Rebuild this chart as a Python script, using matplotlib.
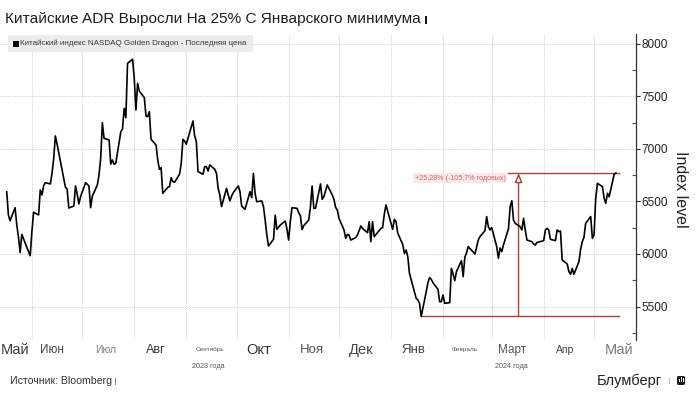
import matplotlib
matplotlib.use('Agg')
import matplotlib.pyplot as plt
import matplotlib.dates as mdates
from matplotlib.patches import Rectangle, FancyBboxPatch
from matplotlib.ticker import MultipleLocator, NullFormatter
import pandas as pd
import numpy as np

plt.rcParams['font.family'] = ['Liberation Sans', 'DejaVu Sans']

# ---------------- data ----------------
start_date = '2023-05-17'
end_date = '2024-05-14'
holidays = ['2023-05-29', '2023-06-19', '2023-07-04', '2023-09-04', '2023-11-23',
            '2023-12-25', '2024-01-01', '2024-01-15', '2024-02-19', '2024-03-29']

may23 = [6593, 6372, 6317, 6441, 6276, 6165, 6013, 6187, 6022, 5984]
jun23 = [6212, 6397, 6372, 6610, 6562, 6650, 6679, 6667, 6768, 6911, 7124, 7048, 6721,
         6635, 6619, 6438, 6457, 6648, 6571, 6476, 6546]
jul23 = [6679, 6648, 6441, 6550, 6657, 6752, 6911, 7250, 7102, 7086, 6856, 6895, 6854,
         6864, 7165, 7190, 7387, 7298, 7816, 7854]
aug23 = [7673, 7371, 7625, 7552, 7489, 7314, 7308, 7355, 7092, 7038, 6895, 6806, 6822,
         6578, 6635, 6641, 6727, 6689, 6683, 6760, 6864, 7092, 7076]
sep23 = [7045, 7267, 7124, 7070, 6784, 6759, 6832, 6832, 6790, 6848, 6806, 6768, 6625,
         6562, 6451, 6625, 6562, 6505, 6552, 6584]
oct23 = [6648, 6594, 6457, 6441, 6425, 6594, 6537, 6768, 6578, 6498, 6505, 6451, 6324,
         6181, 6076, 6140, 6371, 6235, 6254, 6276, 6314, 6235]
nov23 = [6133, 6308, 6441, 6435, 6394, 6365, 6232, 6270, 6324, 6451, 6648, 6435, 6435,
         6667, 6521, 6546, 6657, 6562, 6521, 6444, 6419]
dec23 = [6340, 6229, 6149, 6187, 6181, 6133, 6156, 6181, 6222, 6267, 6244, 6203, 6308,
         6117, 6308, 6165, 6244, 6251, 6378, 6467]
jan24 = [6235, 6330, 6308, 6200, 6090, 6005, 6038, 5975, 5816, 5578, 5562, 5530, 5405,
         5641, 5727, 5775, 5759, 5727, 5663, 5546, 5546]
feb24 = [5610, 5530, 5537, 5863, 5810, 5746, 5832, 5937, 5784, 5968, 6013, 6070, 6000,
         6063, 6133, 6165, 6222, 6356, 6260, 6229]
mar24 = [6251, 6070, 5959, 6058, 6022, 6086, 6240, 6451, 6508, 6324, 6292, 6260, 6229,
         6340, 6229, 6133, 6117, 6095, 6086, 6110]
apr24 = [6127, 6229, 6244, 6229, 6140, 6127, 6229, 6213, 6219, 5943, 5905, 5832, 5807,
         5863, 5807, 5927, 6044, 6117, 6159, 6292, 6356, 6149]
may24 = [6181, 6530, 6673, 6641, 6530, 6483, 6578, 6546, 6760, 6771]

values = (may23 + jun23 + jul23 + aug23 + sep23 + oct23 + nov23 + dec23 +
          jan24 + feb24 + mar24 + apr24 + may24)

month_labels = ['Май', 'Июн', 'Июл', 'Авг', 'Сентябрь', 'Окт', 'Ноя', 'Дек',
                'Янв', 'Февраль', 'Март', 'Апр', 'Май']
month_label_dates = ['2023-05-22', '2023-06-13', '2023-07-15', '2023-08-14', '2023-09-15',
                     '2023-10-14', '2023-11-15', '2023-12-14', '2024-01-14', '2024-02-14',
                     '2024-03-13', '2024-04-14', '2024-05-16']
year_labels = ['2023 года', '2024 года']
year_label_dates = ['2023-09-14', '2024-03-13']

yticks = [5500, 6000, 6500, 7000, 7500, 8000]
series_name = 'Китайский индекс NASDAQ Golden Dragon - Последняя цена'
change_label = '+25,28% (-105,7% годовых)'

# ---------------- figure ----------------
W, H = 697, 394
fig = plt.figure(figsize=(W / 100, H / 100), dpi=100)
fig.patch.set_facecolor('white')


def fx(px):
    return px / W


def fy(py):
    return 1 - py / H


ax_top, ax_bot, ax_right = 34, 340, 636
ax = fig.add_axes([0, fy(ax_bot), fx(ax_right), (ax_bot - ax_top) / H])

dates = pd.bdate_range(start_date, end_date, freq='C', holidays=holidays)
vals = np.array(values, dtype=float)
ax.plot(dates, vals, color='black', lw=1.2, zorder=3)

ax.set_xlim(pd.Timestamp('2023-05-13'), pd.Timestamp('2024-05-26'))
ax.set_ylim(5181, 8095)

# y axis on right
ax.yaxis.tick_right()
ax.set_yticks(yticks)
ax.yaxis.set_minor_locator(MultipleLocator(250))
ax.tick_params(axis='y', which='major', direction='out', length=3, width=0.8,
               color='#333333', labelsize=8.5, labelcolor='#222222', pad=1)
ax.tick_params(axis='y', which='minor', direction='in', length=3, width=0.8, color='#555555')
for s in ['left', 'top', 'bottom']:
    ax.spines[s].set_visible(False)
ax.spines['right'].set_color('#333333')
ax.spines['right'].set_linewidth(0.9)

# x axis: month boundaries as grid
ax.xaxis.set_major_locator(mdates.MonthLocator())
ax.xaxis.set_major_formatter(NullFormatter())
ax.tick_params(axis='x', which='both', length=0)
ax.grid(True, which='major', axis='both', color='#c8c8c8', lw=0.7, ls=(0, (1, 1.5)))

# month labels
lab_sizes = [10.5, 8.5, 7.5, 9, 4.6, 10.5, 9.5, 10.5, 9.5, 4.6, 8.5, 7.5, 10.5]
lab_colors = ['#3a3a3a', '#444444', '#808080', '#333333', '#555555', '#333333', '#555555',
              '#444444', '#444444', '#555555', '#555555', '#444444', '#7a7a7a']
trans = ax.get_xaxis_transform()
yl = (ax_bot - 350) / (ax_bot - ax_top)
for lab, d, s, c in zip(month_labels, month_label_dates, lab_sizes, lab_colors):
    ax.text(pd.Timestamp(d), yl, lab, transform=trans, ha='center', va='center',
            fontsize=s, color=c, clip_on=False)
yl2 = (ax_bot - 366) / (ax_bot - ax_top)
for lab, d in zip(year_labels, year_label_dates):
    ax.text(pd.Timestamp(d), yl2, lab, transform=trans, ha='center', va='center',
            fontsize=5.2, color='#555555', clip_on=False)

# ---------------- annotation (min -> last) ----------------
red = '#a8403c'
imin = int(np.argmin(vals))
dmin, vmin = dates[imin], vals[imin]
dend, vend = dates[-1], vals[-1]
dmid = dmin + (dend - dmin) / 2
ax.plot([dmin, dend + pd.Timedelta(days=2)], [vmin, vmin], color=red, lw=1.0, zorder=2)
ax.plot([dmid - pd.Timedelta(days=6), dend + pd.Timedelta(days=2)], [vend, vend],
        color=red, lw=1.0, zorder=2)
ax.annotate('', xy=(dmid, vend), xytext=(dmid, vmin),
            arrowprops=dict(arrowstyle='-|>,head_width=0.22,head_length=0.55',
                            fc='white', ec=red, lw=1.0, shrinkA=0, shrinkB=0), zorder=2)
ax.annotate(change_label, xy=(dmid, vend), xytext=(-13, -5), textcoords='offset pixels',
            ha='right', va='center', fontsize=5.1, color='#d06868',
            bbox=dict(boxstyle='square,pad=0.2', fc='#fbe9e9', ec='none'))

# ---------------- texts ----------------
fig.text(fx(5), fy(19), 'Китайские ADR Выросли На 25% С Январского минимума',
         fontsize=11.1, color='#1e1e1e', ha='left', va='center')
fig.patches.append(Rectangle((fx(425), fy(24)), fx(2), 8 / H, transform=fig.transFigure,
                             fc='#111111', ec='none'))

# legend box
fig.patches.append(Rectangle((fx(8), fy(52)), fx(245), 17 / H, transform=fig.transFigure,
                             fc='#ececec', ec='none', zorder=5))
fig.patches.append(Rectangle((fx(13), fy(47)), fx(6), 6 / H, transform=fig.transFigure,
                             fc='black', ec='none', zorder=6))
fig.text(fx(20.5), fy(43.5), series_name, fontsize=5.8, color='#333333', ha='left',
         va='center', zorder=7)

# axis title
fig.text(fx(680), fy(189), 'Index level', rotation=270, fontsize=11.5, color='#222222',
         ha='center', va='center')

# footer
fig.text(fx(10), fy(381), 'Источник: Bloomberg', fontsize=7.6, color='#333333',
         ha='left', va='center')
fig.patches.append(Rectangle((fx(115), fy(385)), fx(1), 7 / H, transform=fig.transFigure,
                             fc='#888888', ec='none'))
fig.text(fx(597), fy(381), 'Блумберг', fontsize=10.5, color='#222222', ha='left', va='center')
fig.patches.append(Rectangle((fx(669), fy(384)), fx(1), 6 / H, transform=fig.transFigure,
                             fc='#bbbbbb', ec='none'))
fig.patches.append(FancyBboxPatch((fx(677), fy(385)), fx(8), 9 / H,
                                  boxstyle='round,pad=0,rounding_size=0.003',
                                  transform=fig.transFigure, fc='#1a1a1a', ec='none'))
for bx, bh in [(679, 3), (681, 5), (683, 4)]:
    fig.patches.append(Rectangle((fx(bx), fy(382)), fx(1), bh / H,
                                 transform=fig.transFigure, fc='white', ec='none'))

fig.savefig('out.png', dpi=100)
